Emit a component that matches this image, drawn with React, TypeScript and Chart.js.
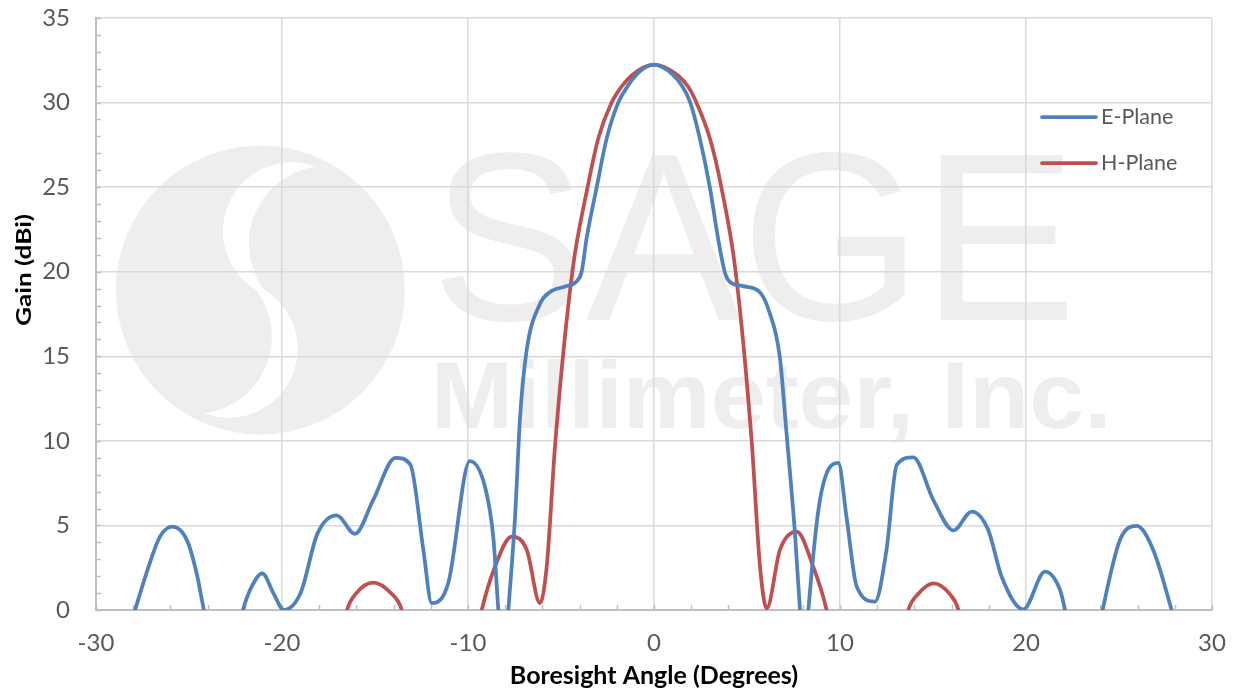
import React, { useEffect, useRef } from 'react';
import { Chart, registerables } from 'chart.js';

Chart.register(...registerables);

// ---- Data ----
const eAngles = [
  -28.3, -27.9, -27.1, -26.56, -25.9, -25.1, -24.59, -24.2, -23.6, -22.7, -22.1, -21.63, -21.06, -20.46,
  -19.9, -19.0, -18.1, -17.06, -16.08, -15.1, -13.9, -13.1, -12.4, -11.95, -11.06, -9.9, -9.09, -8.64,
  -8.37, -8.1, -7.83, -7.47, -7.2, -6.84, -6.13, -5.59, -4.78, -4.16, -3.89, -3.62, -3.08, -2.54, -1.92,
  -1.4, -0.93, -0.45, 0, 0.45, 1.0, 1.5, 1.95, 2.46, 3.0, 3.44, 3.8, 4.05, 4.78, 5.68, 6.16, 6.76, 7.11,
  7.58, 7.85, 8.05, 8.3, 8.92, 9.91, 10.35, 10.9, 11.88, 12.5, 13.05, 13.94, 15.02, 16.1, 17.08, 17.97,
  18.69, 19.86, 21.02, 21.83, 22.1, 22.6, 23.6, 24.12, 25.05, 25.95, 26.84, 27.83, 28.2,
];
const eGain = [
  -1.5, 0, 2.8, 4.34, 4.93, 4.1, 2.17, 0, -3, -3, 0, 1.38, 2.17, 0.99,
  0, 1.0, 4.5, 5.6, 4.5, 6.5, 9.0, 8.6, 3.55, 0.4, 1.6, 8.8, 7.3, 4.3,
  0, -4, 0, 5.5, 11.4, 15.4, 18.1, 18.8, 19.13, 19.43, 20.0, 22.0, 25.0, 27.9, 30.0,
  31.0, 31.66, 32.1, 32.25, 32.1, 31.66, 31.0, 30.0, 27.9, 25.0, 22.0, 20.0, 19.43, 19.15, 18.8, 17.75, 15.0, 10.65,
  4.5, 0, -4, 0, 6.5, 8.7, 5.5, 1.38, 0.5, 3.55, 8.58, 9.03, 6.5, 4.7, 5.82, 4.73,
  1.97, 0.04, 2.27, 1.18, 0, -3, -3, 0, 4.14, 4.97, 3.55, 0, -1.5,
];

const hAngles = [
  -17, -16.5, -16.0, -15.09, -14.15, -13.56, -13.0, -11.4, -9.8, -9.26, -8.55, -7.65, -6.84, -6.13,
  -5.77, -5.3, -4.39, -3.57, -2.99, -2.28, -1.74, -1.2, -0.57, 0, 0.6, 1.29, 1.83, 2.28, 3.0, 3.62, 4.39,
  5.25, 5.7, 6.06, 6.77, 7.67, 8.56, 9.28, 9.8, 11.6, 13.1, 13.67, 14.2, 15.02, 15.9, 16.37, 16.9,
];
const hGain = [
  -3, 0, 1.0, 1.62, 1.0, 0, -3, -5, -3, 0, 2.56, 4.34, 3.55, 0.4,
  2.56, 10.0, 20.0, 25.0, 27.9, 30.0, 30.95, 31.6, 32.08, 32.25, 32.08, 31.6, 30.95, 30.0, 27.9, 25.0, 20.0,
  10.0, 2.56, 0.1, 3.55, 4.63, 2.56, 0, -3, -5, -3, 0, 0.95, 1.58, 0.95, 0, -3,
];

const seriesNames = ['E-Plane', 'H-Plane'];
const seriesColors = ['#4F81BD', '#C0504D'];
const xTickValues = [-30, -20, -10, 0, 10, 20, 30];
const yTickValues = [0, 5, 10, 15, 20, 25, 30, 35];
const xTitle = 'Boresight Angle (Degrees)';
const yTitle = 'Gain (dBi)';

const LABEL_FONT = 'Lato, "Open Sans", sans-serif';

const watermarkPlugin = {
  id: 'watermark',
  beforeDraw(chart: any) {
    const { ctx, chartArea: ca } = chart;
    const sx = ca.width / 1116;
    const sy = ca.height / 592;
    const P = (x: number, y: number) => [ca.left + (x - 96) * sx, ca.top + (y - 18) * sy];
    const col = '#eeeeee';
    ctx.save();
    // logo circle
    const [cx, cy] = P(260.3, 290);
    ctx.fillStyle = col;
    ctx.beginPath();
    ctx.arc(cx, cy, 144.5 * sx, 0, Math.PI * 2);
    ctx.fill();
    const crescent = (a: number[], ra: number, b: number[], rb: number) => {
      const [ax, ay] = P(a[0], a[1]);
      const [bx, by] = P(b[0], b[1]);
      ctx.save();
      ctx.beginPath();
      ctx.arc(ax, ay, ra * sx, 0, Math.PI * 2);
      ctx.clip();
      ctx.beginPath();
      ctx.arc(ax, ay, ra * sx, 0, Math.PI * 2);
      ctx.moveTo(bx + rb * sx, by);
      ctx.arc(bx, by, rb * sx, 0, Math.PI * 2);
      ctx.fillStyle = '#ffffff';
      ctx.fill('evenodd');
      ctx.restore();
    };
    crescent([291.8, 231.1], 69, [326.2, 243.5], 77.4);
    crescent([228.8, 348.9], 69, [194.4, 336.5], 77.4);

    const fitText = (text: string, font: string, left: number, right: number, baseY: number) => {
      ctx.font = font;
      const m = ctx.measureText(text);
      const ink = m.actualBoundingBoxLeft + m.actualBoundingBoxRight;
      const [lx, by] = P(left, baseY);
      const [rx] = P(right, baseY);
      const k = (rx - lx) / ink;
      ctx.save();
      ctx.translate(lx + m.actualBoundingBoxLeft * k, by);
      ctx.scale(k, 1);
      ctx.fillStyle = col;
      ctx.textBaseline = 'alphabetic';
      ctx.textAlign = 'left';
      ctx.fillText(text, 0, 0);
      ctx.restore();
    };
    fitText('SAGE', '240px "Liberation Sans", Arial, sans-serif', 441, 1067, 320);
    fitText('Millimeter, Inc.', 'bold 95px "Liberation Sans", Arial, sans-serif', 437, 1105, 428);
    ctx.restore();
  },
};

const decorPlugin = {
  id: 'decor',
  beforeDatasetsDraw(chart: any) {
    const { ctx, chartArea: ca, scales } = chart;
    const xs = scales.x;
    const ys = scales.y;
    ctx.save();
    ctx.strokeStyle = '#bfbfbf';
    ctx.lineWidth = 1.5;
    ctx.beginPath();
    for (let v = ys.min; v <= ys.max; v += 1) {
      const y = Math.round(ys.getPixelForValue(v)) + 0.5;
      ctx.moveTo(ca.left, y);
      ctx.lineTo(ca.left + 5, y);
    }
    for (let v = xs.min; v <= xs.max; v += 2) {
      const x = Math.round(xs.getPixelForValue(v)) + 0.5;
      ctx.moveTo(x, ca.bottom);
      ctx.lineTo(x, ca.bottom - 5);
    }
    ctx.stroke();
    ctx.restore();
  },
  afterDraw(chart: any) {
    const { ctx, chartArea: ca } = chart;
    ctx.save();
    // y-axis title (stretched along its length like the reference)
    ctx.translate(ca.left - 72, ca.top + 252);
    ctx.rotate(-Math.PI / 2);
    ctx.font = `bold 21px ${LABEL_FONT}`;
    const w = ctx.measureText(yTitle).width;
    ctx.scale(112 / w, 1);
    ctx.fillStyle = '#000000';
    ctx.textAlign = 'center';
    ctx.textBaseline = 'middle';
    ctx.fillText(yTitle, 0, 0);
    ctx.restore();

    // legend inside the plot
    ctx.save();
    ctx.font = `21.5px ${LABEL_FONT}`;
    ctx.textAlign = 'left';
    ctx.textBaseline = 'middle';
    seriesNames.forEach((name, i) => {
      const y = ca.top + 99 + i * 46;
      const x0 = ca.right - 170;
      ctx.strokeStyle = seriesColors[i];
      ctx.lineWidth = 3.75;
      ctx.lineCap = 'round';
      ctx.beginPath();
      ctx.moveTo(x0, y);
      ctx.lineTo(x0 + 54, y);
      ctx.stroke();
      ctx.fillStyle = '#595959';
      ctx.fillText(name, x0 + 59, y);
    });
    ctx.restore();
  },
};

export default function App() {
  const canvasRef = useRef<HTMLCanvasElement | null>(null);

  useEffect(() => {
    document.body.style.margin = '0';
    const canvas = canvasRef.current;
    if (!canvas) return;
    const mk = (xs: number[], ys: number[]) => xs.map((x, i) => ({ x, y: ys[i] }));
    const chart = new Chart(canvas, {
      type: 'line',
      data: {
        datasets: [
          {
            label: seriesNames[0],
            data: mk(eAngles, eGain),
            borderColor: seriesColors[0],
            borderWidth: 3.75,
            pointRadius: 0,
            cubicInterpolationMode: 'monotone',
            fill: false,
          },
          {
            label: seriesNames[1],
            data: mk(hAngles, hGain),
            borderColor: seriesColors[1],
            borderWidth: 3.75,
            pointRadius: 0,
            cubicInterpolationMode: 'monotone',
            fill: false,
          },
        ],
      },
      options: {
        animation: false,
        responsive: true,
        maintainAspectRatio: false,
        layout: { padding: { left: 0, right: 22, top: 18, bottom: 0 } },
        plugins: {
          legend: { display: false },
          tooltip: { enabled: false },
          title: { display: false },
        },
        scales: {
          x: {
            type: 'linear',
            min: -30,
            max: 30,
            afterBuildTicks: (scale: any) => {
              scale.ticks = xTickValues.map((v) => ({ value: v }));
            },
            afterFit: (scale: any) => {
              scale.height = 81;
              scale.paddingLeft = 0;
              scale.paddingRight = 0;
            },
            grid: { color: '#d9d9d9', lineWidth: 1.5, drawTicks: false },
            border: { color: '#bfbfbf', width: 2 },
            ticks: {
              padding: 19,
              color: '#595959',
              font: { family: LABEL_FONT, size: 24 },
              maxRotation: 0,
            },
            title: {
              display: true,
              text: xTitle,
              color: '#000000',
              font: { family: LABEL_FONT, size: 25, weight: 'bold' },
              padding: { top: 0, bottom: 0 },
            },
          },
          y: {
            type: 'linear',
            min: 0,
            max: 35,
            afterBuildTicks: (scale: any) => {
              scale.ticks = yTickValues.map((v) => ({ value: v }));
            },
            afterFit: (scale: any) => {
              scale.width = 96;
              scale.paddingTop = 0;
              scale.paddingBottom = 0;
            },
            grid: { color: '#d9d9d9', lineWidth: 1.5, drawTicks: false },
            border: { color: '#bfbfbf', width: 2 },
            ticks: {
              padding: 26,
              color: '#595959',
              font: { family: LABEL_FONT, size: 24 },
            },
          },
        },
      } as any,
      plugins: [watermarkPlugin, decorPlugin],
    });
    return () => chart.destroy();
  }, []);

  return (
    <div style={{ width: '1234px', height: '691px', position: 'relative' }}>
      <canvas ref={canvasRef} />
    </div>
  );
}
